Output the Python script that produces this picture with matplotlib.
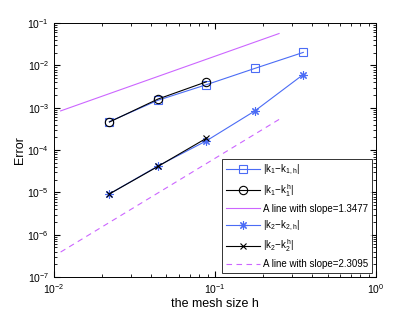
import numpy as np
import matplotlib
matplotlib.use("Agg")
import matplotlib.pyplot as plt

plt.rcParams['font.family'] = ['Liberation Sans', 'DejaVu Sans']
plt.rcParams['mathtext.fontset'] = 'custom'
plt.rcParams['mathtext.rm'] = 'Liberation Sans'
plt.rcParams['mathtext.it'] = 'Liberation Sans'

# mesh sizes
h = [0.3536, 0.1768, 0.0884, 0.0442, 0.0221]
h_short = [0.0884, 0.0442, 0.0221]
# errors
err_k1 = [0.0203, 0.0085, 0.0035, 0.0015, 0.00047]
err_k1_h = [0.0041, 0.0016, 0.00046]
err_k2 = [0.0061, 0.00084, 0.000165, 4.2e-5, 9.2e-6]
err_k2_h = [0.00019, 4.1e-5, 9.2e-6]
# reference lines
h_line = [0.011, 0.25]
slope1, c1 = 1.3477, 0.367
slope2, c2 = 2.3095, 0.013

blue = '#4b6cf5'
mag = '#cc66ff'
star = (8, 2, 0)

fig = plt.figure(figsize=(4.15, 3.12), dpi=100)
ax = fig.add_axes([0.130, 0.112, 0.776, 0.814])

ax.loglog(h, err_k1, '-s', color=blue, lw=0.8, ms=5.5, mfc='none', mew=0.8, label=r'$|k_1\!-\!k_{1,h}|$')
ax.loglog(h_short, err_k1_h, '-o', color='k', lw=0.8, ms=6, mfc='none', mew=0.8, label=r'$|k_1\!-\!k_1^h|$')
ax.loglog(h_line, [c1 * x ** slope1 for x in h_line], '-', color=mag, lw=0.8, label='A line with slope=1.3477')
ax.loglog(h, err_k2, '-', marker=star, color=blue, lw=0.8, ms=6, mew=0.8, label=r'$|k_2\!-\!k_{2,h}|$')
ax.loglog(h_short, err_k2_h, '-x', color='k', lw=0.8, ms=4.5, mew=0.8, label=r'$|k_2\!-\!k_2^h|$')
ax.loglog(h_line, [c2 * x ** slope2 for x in h_line], '--', color=mag, lw=0.8, dashes=(5, 4), label='A line with slope=2.3095')

ax.set_xlim(1e-2, 1)
ax.set_ylim(1e-7, 1e-1)
ax.tick_params(which='both', direction='in', top=True, right=True, labelsize=7.5)
ax.tick_params(which='major', length=4)
ax.tick_params(which='minor', length=2)
for s in ax.spines.values():
    s.set_linewidth(0.7)
ax.set_xlabel('the mesh size h', fontsize=9, labelpad=2)
ax.set_ylabel('Error', fontsize=9, labelpad=1)

leg = ax.legend(loc='lower right', fontsize=7, fancybox=False, edgecolor='k',
                handlelength=3.5, handletextpad=0.3, borderaxespad=0.4,
                labelspacing=0.5, borderpad=0.4)
leg.get_frame().set_linewidth(0.7)

fig.savefig('out.png', dpi=100)
